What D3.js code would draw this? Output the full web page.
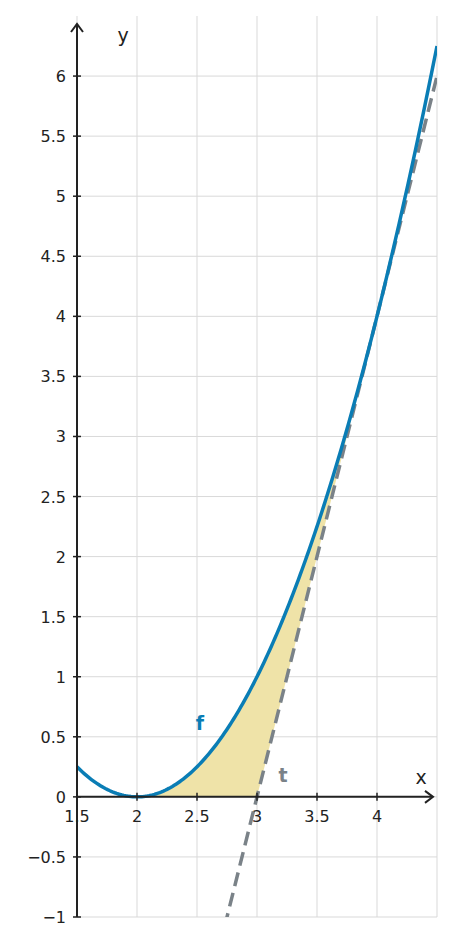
<!DOCTYPE html>
<html><head><meta charset="utf-8">
<script src="https://cdn.jsdelivr.net/npm/d3@7"></script>
<style>body{margin:0;background:#fff}</style></head>
<body><svg id="c" width="455" height="945"></svg>
<script>
const xTicks=[1.5,2,2.5,3,3.5,4];
const xTickLabels=["1.5","2","2.5","3","3.5","4"];
const yTicks=[-1,-0.5,0,0.5,1,1.5,2,2.5,3,3.5,4,4.5,5,5.5,6];
const yTickLabels=["\u22121","\u22120.5","0","0.5","1","1.5","2","2.5","3","3.5","4","4.5","5","5.5","6"];
const fCoef=[4,-4,1]; // f(x)=4-4x+x^2
const tCoef=[-12,4];  // t(x)=-12+4x
const xDomain=[1.5,4.5], yDomain=[-1,6.5];
const shadeRange=[2,4];
const f=x=>fCoef[0]+fCoef[1]*x+fCoef[2]*x*x;
const t=x=>tCoef[0]+tCoef[1]*x;
const svg=d3.select("#c");
const x=d3.scaleLinear().domain(xDomain).range([77,437]);
const y=d3.scaleLinear().domain(yDomain).range([917,16]);
const g=svg.append("g");
// grid
xTicks.concat([4.5]).forEach(v=>g.append("line").attr("x1",x(v)).attr("x2",x(v)).attr("y1",y(-1)).attr("y2",y(6.5)).attr("stroke","#d9d9d9"));
yTicks.forEach(v=>g.append("line").attr("x1",x(1.5)).attr("x2",x(4.5)).attr("y1",y(v)).attr("y2",y(v)).attr("stroke","#d9d9d9"));
svg.append("clipPath").attr("id","cp").append("rect").attr("x",x(1.5)).attr("y",y(6.5)).attr("width",x(4.5)-x(1.5)).attr("height",y(-1)-y(6.5));
const pg=svg.append("g").attr("clip-path","url(#cp)");
const xs=d3.range(0,201).map(i=>xDomain[0]+(xDomain[1]-xDomain[0])*i/200);
const ss=d3.range(0,201).map(i=>shadeRange[0]+(shadeRange[1]-shadeRange[0])*i/200);
pg.append("path").attr("d",d3.area().x(d=>x(d)).y0(d=>y(Math.max(0,t(d)))).y1(d=>y(f(d)))(ss)).attr("fill","#efe3a8");
pg.append("path").attr("d",d3.line().x(d=>x(d)).y(d=>y(t(d)))(xDomain)).attr("stroke","#7a8288").attr("stroke-width",3.5).attr("stroke-dasharray","14,7").attr("fill","none");
pg.append("path").attr("d",d3.line().x(d=>x(d)).y(d=>y(f(d)))(xs)).attr("stroke","#0a7db5").attr("stroke-width",3.5).attr("fill","none");
// axes
const ax="#222";
svg.append("line").attr("x1",x(1.5)).attr("x2",x(4.5)-5).attr("y1",y(0)).attr("y2",y(0)).attr("stroke",ax).attr("stroke-width",2);
svg.append("path").attr("d",`M${x(4.5)-12},${y(0)-6}L${x(4.5)-4},${y(0)}L${x(4.5)-12},${y(0)+6}`).attr("stroke",ax).attr("stroke-width",2).attr("fill","none");
svg.append("line").attr("x1",x(1.5)).attr("x2",x(1.5)).attr("y1",y(-1)).attr("y2",y(6.5)+8).attr("stroke",ax).attr("stroke-width",2);
svg.append("path").attr("d",`M${x(1.5)-6},${y(6.5)+16}L${x(1.5)},${y(6.5)+8}L${x(1.5)+6},${y(6.5)+16}`).attr("stroke",ax).attr("stroke-width",2).attr("fill","none");
const font="DejaVu Sans, sans-serif";
xTicks.forEach((v,i)=>{svg.append("line").attr("x1",x(v)).attr("x2",x(v)).attr("y1",y(0)-4).attr("y2",y(0)+4).attr("stroke",ax).attr("stroke-width",1.5);
 svg.append("text").attr("x",x(v)).attr("y",y(0)+25).attr("text-anchor","middle").attr("font-family",font).attr("font-size",16).attr("fill","#222").text(xTickLabels[i]);});
yTicks.forEach((v,i)=>{svg.append("line").attr("x1",x(1.5)-4).attr("x2",x(1.5)+4).attr("y1",y(v)).attr("y2",y(v)).attr("stroke",ax).attr("stroke-width",1.5);
 svg.append("text").attr("x",66).attr("y",y(v)+6).attr("text-anchor","end").attr("font-family",font).attr("font-size",16).attr("fill","#222").text(yTickLabels[i]);});
svg.append("text").attr("x",123).attr("y",42).attr("text-anchor","middle").attr("font-family",font).attr("font-size",19).attr("fill","#222").text("y");
svg.append("text").attr("x",421).attr("y",784).attr("text-anchor","middle").attr("font-family",font).attr("font-size",19).attr("fill","#222").text("x");
svg.append("text").attr("x",200).attr("y",730).attr("text-anchor","middle").attr("font-family",font).attr("font-size",19).attr("font-weight","bold").attr("fill","#0a7db5").text("f");
svg.append("text").attr("x",283).attr("y",782).attr("text-anchor","middle").attr("font-family",font).attr("font-size",19).attr("font-weight","bold").attr("fill","#7a8288").text("t");
</script></body></html>
